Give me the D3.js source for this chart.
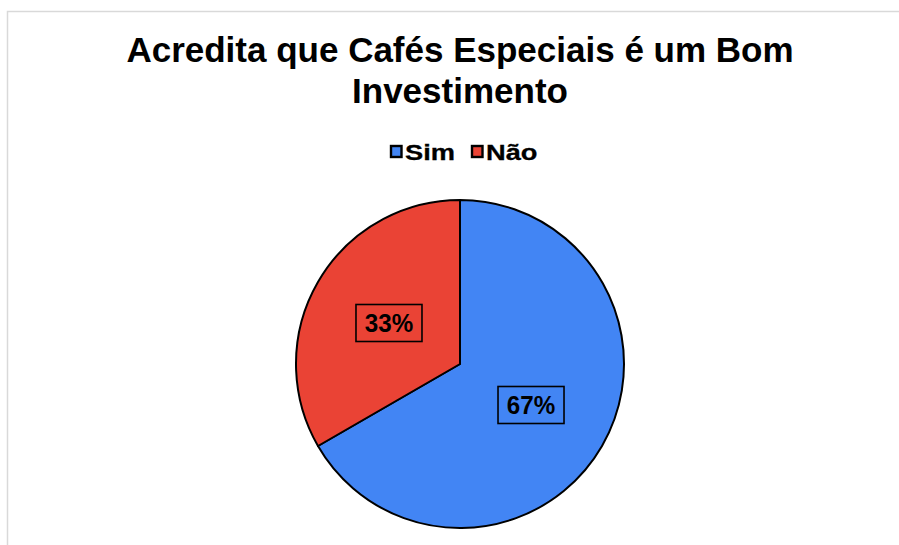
<!DOCTYPE html>
<html><head><meta charset="utf-8">
<script src="https://cdn.jsdelivr.net/npm/d3@7"></script>
<style>html,body{margin:0;padding:0;background:#fff}svg{display:block}</style>
</head><body>
<svg id="c" width="899" height="545"></svg>
<script>
const categories = ["Sim", "Não"];
const values = [20, 10];
const colors = ["#4285F4", "#EA4335"];
const titleLines = ["Acredita que Cafés Especiais é um Bom", "Investimento"];

const svg = d3.select("#c");
const font = "'Liberation Sans', Arial, sans-serif";

// chart border
svg.append("rect").attr("x", 7.5).attr("y", 11.5).attr("width", 920).attr("height", 560)
  .attr("fill", "#fff").attr("stroke", "#d9d9d9").attr("stroke-width", 1.5);

// title
const title = svg.append("text").attr("text-anchor", "middle").attr("font-family", font)
  .attr("font-weight", "bold").attr("font-size", 35).attr("fill", "#000");
titleLines.forEach((t, i) => title.append("tspan").attr("x", 460).attr("y", 62 + i * 41).text(t));

// legend
const legend = svg.append("g").attr("font-family", font).attr("font-weight", "bold").attr("font-size", 22)
  .attr("stroke", "#000").attr("stroke-width", 0.3);
const legX = [390, 471];
categories.forEach((c, i) => {
  const g = legend.append("g").attr("transform", `translate(${legX[i]},0)`);
  g.append("rect").attr("x", 1).attr("y", 146).attr("width", 10.5).attr("height", 11)
    .attr("fill", colors[i]).attr("stroke", "#000").attr("stroke-width", 2.4);
  g.append("text").attr("transform", "translate(15,159.5) scale(1.24,1)").text(c);
});

// pie
const cx = 460, cy = 364, R = 164;
const pie = d3.pie().sort(null).value(d => d)(values);
const arc = d3.arc().innerRadius(0).outerRadius(R);
const total = d3.sum(values);
const g = svg.append("g").attr("transform", `translate(${cx},${cy})`);
g.selectAll("path").data(pie).join("path").attr("d", arc)
  .attr("fill", (d, i) => colors[i]).attr("stroke", "#000").attr("stroke-width", 2).attr("stroke-linejoin", "round");

const fmt = d3.format(".0%");
pie.forEach((d, i) => {
  const [x, y] = arc.centroid(d);
  const lg = g.append("g").attr("transform", `translate(${x},${y})`);
  lg.append("text").attr("text-anchor", "middle").attr("transform", "scale(0.93,1)").attr("dy", "0.36em")
    .attr("font-family", font).attr("font-weight", "bold").attr("font-size", 26).attr("fill", "#000")
    .text(fmt(d.value / total));
  lg.append("rect").attr("x", -33).attr("y", -18.5).attr("width", 66).attr("height", 37)
    .attr("fill", "none").attr("stroke", "#000").attr("stroke-width", 1.6);
});
</script>
</body></html>
